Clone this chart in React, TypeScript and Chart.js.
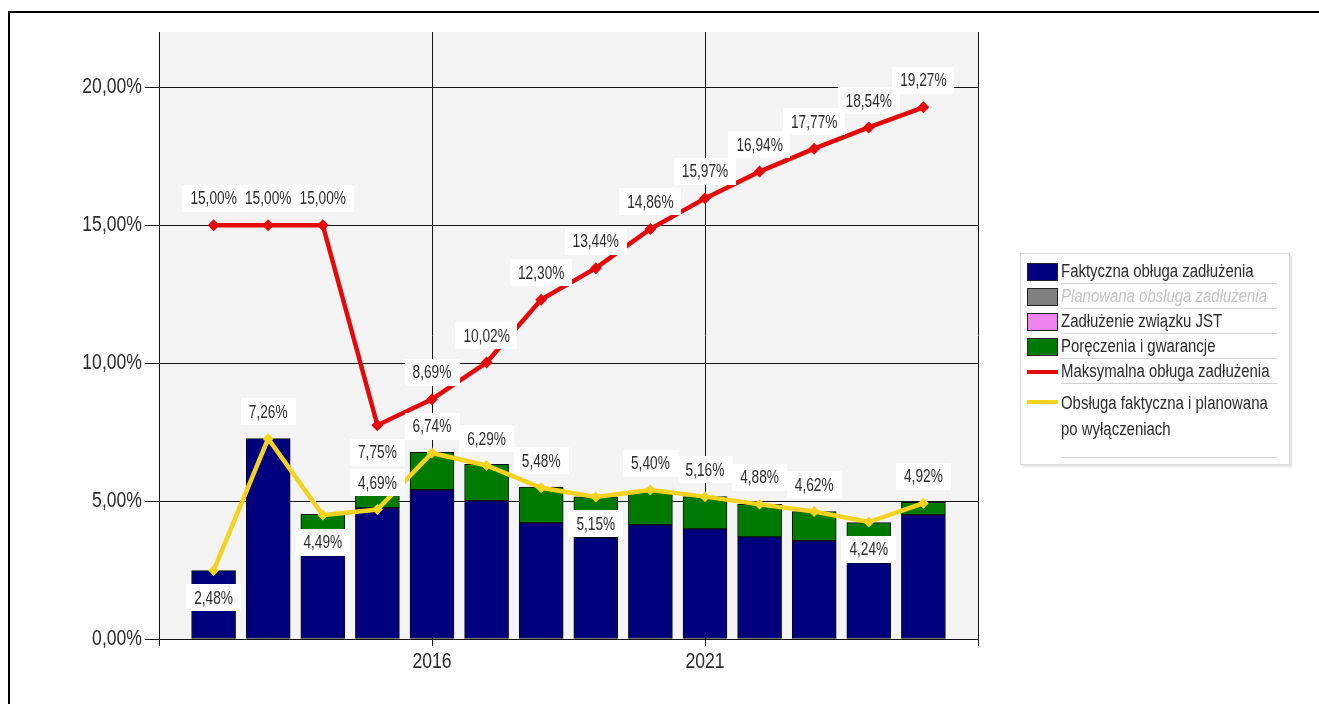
import React, { useEffect, useRef } from 'react';
import { Chart, registerables } from 'chart.js';

Chart.register(...registerables);

// ---- data ----
const YEARS = [2012, 2013, 2014, 2015, 2016, 2017, 2018, 2019, 2020, 2021, 2022, 2023, 2024, 2025];
const FAKTYCZNA = [2.48, 7.26, 3.02, 4.75, 5.41, 5.01, 4.21, 3.67, 4.14, 3.99, 3.70, 3.56, 2.76, 4.50];
const PORECZENIA = [null, null, 1.50, 0.55, 1.36, 1.32, 1.30, 1.48, 1.22, 1.17, 1.18, 1.06, 1.46, 0.45];
const MAKSYMALNA = [15.0, 15.0, 15.0, 7.75, 8.69, 10.02, 12.3, 13.44, 14.86, 15.97, 16.94, 17.77, 18.54, 19.27];
const OBSLUGA = [2.48, 7.26, 4.49, 4.69, 6.74, 6.29, 5.48, 5.15, 5.4, 5.16, 4.88, 4.62, 4.24, 4.92];
const Y_TICKS = [0, 5, 10, 15, 20];
const X_GRID_YEARS = [2011, 2016, 2021, 2026];
const X_LABEL_YEARS = [2016, 2021];
const RED_LABELS_BELOW = [2015];
const YELLOW_LABELS_BELOW = [2012, 2014, 2019, 2024];

// ---- styles ----
const FONT = "'Liberation Sans', Arial, sans-serif";
const NAVY = '#00007e';
const GREEN = '#007a00';
const RED = '#e20a0a';
const YELLOW = '#f3d320';
const GRID = '#141414';
const TEXT = '#2b2b2b';
const AXIS_FONT = 22;
const AXIS_SX = 0.8;
const LABEL_FONT = 18.5;
const LABEL_SX = 0.74;

const LEGEND_ITEMS = [
  { label: 'Faktyczna obługa zadłużenia', kind: 'box', color: NAVY },
  { label: 'Planowana obsługa zadłużenia', kind: 'box', color: '#808080', muted: true },
  { label: 'Zadłużenie związku JST', kind: 'box', color: '#ee82ee' },
  { label: 'Poręczenia i gwarancje', kind: 'box', color: GREEN },
  { label: 'Maksymalna obługa zadłużenia', kind: 'line', color: RED },
  { label: 'Obsługa faktyczna i planowana\npo wyłączeniach', kind: 'line', color: YELLOW },
];

const fmt = (v: number) => v.toFixed(2).replace('.', ',') + '%';

function drawNarrow(ctx: CanvasRenderingContext2D, text: string, x: number, y: number, sx: number, align: CanvasTextAlign) {
  ctx.save();
  ctx.translate(x, y);
  ctx.scale(sx, 1);
  ctx.textAlign = align;
  ctx.fillText(text, 0, 0);
  ctx.restore();
}

const bgPlugin = {
  id: 'plotBg',
  beforeDraw(chart: any) {
    const { ctx, chartArea } = chart;
    ctx.save();
    ctx.fillStyle = '#f4f4f4';
    ctx.fillRect(chartArea.left, chartArea.top, chartArea.right - chartArea.left, chartArea.bottom - chartArea.top);
    ctx.restore();
  },
};

const axisTextPlugin = {
  id: 'axisText',
  afterDraw(chart: any) {
    const ctx = chart.ctx;
    const xs = chart.scales.x;
    const ys = chart.scales.y;
    ctx.save();
    ctx.fillStyle = TEXT;
    ctx.font = `${AXIS_FONT}px ${FONT}`;
    ctx.textBaseline = 'middle';
    Y_TICKS.forEach((v) => {
      drawNarrow(ctx, fmt(v), chart.chartArea.left - 17, ys.getPixelForValue(v), AXIS_SX, 'right');
    });
    X_LABEL_YEARS.forEach((v) => {
      drawNarrow(ctx, String(v), xs.getPixelForValue(v), chart.chartArea.bottom + 23, AXIS_SX, 'center');
    });
    ctx.restore();
  },
};

const LABEL_RULES: Record<string, number[]> = {
  red: RED_LABELS_BELOW,
  yellow: YELLOW_LABELS_BELOW,
};

const labelPlugin = {
  id: 'valueLabels',
  afterDatasetsDraw(chart: any) {
    const ctx = chart.ctx;
    ctx.save();
    ctx.font = `${LABEL_FONT}px ${FONT}`;
    ctx.textBaseline = 'middle';
    ['red', 'yellow'].forEach((key) => {
      const di = chart.data.datasets.findIndex((d: any) => d.labelKey === key);
      if (di < 0) return;
      const meta = chart.getDatasetMeta(di);
      const ds = chart.data.datasets[di];
      meta.data.forEach((pt: any, i: number) => {
        const raw = ds.data[i];
        if (!raw || raw.y == null) return;
        const below = LABEL_RULES[key].includes(raw.x);
        const cy = pt.y + (below ? 27 : -27);
        const text = fmt(raw.y);
        const w = ctx.measureText(text).width * LABEL_SX + 16;
        const h = 27;
        ctx.fillStyle = '#ffffff';
        ctx.fillRect(Math.round(pt.x - w / 2), Math.round(cy - h / 2), Math.round(w), h);
        ctx.fillStyle = TEXT;
        drawNarrow(ctx, text, pt.x, cy + 1, LABEL_SX, 'center');
      });
    });
    ctx.restore();
  },
};

function Legend() {
  return (
    <div
      style={{
        position: 'absolute',
        left: 1020,
        top: 253,
        width: 270,
        height: 212,
        boxSizing: 'border-box',
        border: '1px solid #dcdcdc',
        boxShadow: '2px 2px 2px rgba(0,0,0,0.12)',
        background: '#ffffff',
        fontFamily: FONT,
        fontSize: 18,
        color: TEXT,
        paddingTop: 5,
      }}
    >
      {LEGEND_ITEMS.map((it, i) => {
        const lines = it.label.split('\n');
        const multi = lines.length > 1;
        return (
          <div key={i} style={{ display: 'flex', alignItems: multi ? 'flex-start' : 'center', height: multi ? 74 : 25 }}>
            <div style={{ width: 37, display: 'flex', justifyContent: 'flex-end', alignItems: 'center', height: multi ? 36 : 25 }}>
              {it.kind === 'box' ? (
                <div style={{ width: 29, height: 16, background: it.color, border: '1px solid #222' }} />
              ) : (
                <div style={{ width: 31, height: 4, background: it.color }} />
              )}
            </div>
            <div
              style={{
                marginLeft: 3,
                width: 216,
                height: multi ? 74 : 25,
                boxSizing: 'border-box',
                borderBottom: '1px solid #d0d0d0',
                display: 'flex',
                flexDirection: 'column',
                justifyContent: multi ? 'flex-start' : 'center',
                paddingTop: multi ? 6 : 0,
                lineHeight: multi ? '26px' : '25px',
                whiteSpace: 'nowrap',
                color: it.muted ? '#c4c4c4' : TEXT,
                fontStyle: it.muted ? 'italic' : 'normal',
              }}
            >
              {lines.map((l, j) => (
                <span key={j} style={{ display: 'block', transform: 'scaleX(0.83)', transformOrigin: 'left center' }}>
                  {l}
                </span>
              ))}
            </div>
          </div>
        );
      })}
    </div>
  );
}

export default function App() {
  const ref = useRef<HTMLCanvasElement | null>(null);

  useEffect(() => {
    const canvas = ref.current;
    if (!canvas) return;
    const chart = new Chart(canvas, {
      type: 'bar',
      data: {
        datasets: [
          {
            type: 'line',
            label: 'Maksymalna obługa zadłużenia',
            labelKey: 'red',
            data: YEARS.map((x, i) => ({ x, y: MAKSYMALNA[i] })),
            borderColor: RED,
            backgroundColor: RED,
            borderWidth: 4.5,
            pointStyle: 'rectRot',
            pointRadius: 6,
            pointBorderWidth: 0,
            pointBackgroundColor: RED,
            tension: 0,
            stack: 'red',
            order: 1,
          } as any,
          {
            type: 'line',
            label: 'Obsługa faktyczna i planowana po wyłączeniach',
            labelKey: 'yellow',
            data: YEARS.map((x, i) => ({ x, y: OBSLUGA[i] })),
            borderColor: YELLOW,
            backgroundColor: YELLOW,
            borderWidth: 4.5,
            pointStyle: 'rectRot',
            pointRadius: 5.5,
            pointBorderWidth: 0,
            pointBackgroundColor: YELLOW,
            tension: 0,
            stack: 'yellow',
            order: 0,
          } as any,
          {
            type: 'bar',
            label: 'Faktyczna obługa zadłużenia',
            data: YEARS.map((x, i) => ({ x, y: FAKTYCZNA[i] })),
            backgroundColor: NAVY,
            borderColor: '#0b0b0b',
            borderWidth: 1,
            borderSkipped: false,
            barThickness: 44,
            stack: 'bars',
            order: 2,
          },
          {
            type: 'bar',
            label: 'Poręczenia i gwarancje',
            data: YEARS.map((x, i) => ({ x, y: PORECZENIA[i] })),
            backgroundColor: GREEN,
            borderColor: '#0b0b0b',
            borderWidth: 1,
            borderSkipped: false,
            barThickness: 44,
            stack: 'bars',
            order: 2,
          },
        ],
      },
      options: {
        responsive: false,
        animation: false,
        devicePixelRatio: 1,
        layout: { padding: { left: 0, right: 341, top: 32, bottom: 0 } },
        plugins: {
          legend: { display: false },
          tooltip: { enabled: false },
        },
        scales: {
          x: {
            type: 'linear',
            min: 2011,
            max: 2026,
            stacked: true,
            offset: false,
            afterBuildTicks: (scale: any) => {
              scale.ticks = X_GRID_YEARS.map((v) => ({ value: v }));
            },
            afterFit: (scale: any) => {
              scale.height = 65;
            },
            ticks: { display: false, autoSkip: false, maxRotation: 0 },
            grid: { color: GRID, lineWidth: 1, tickLength: 7, offset: false, drawOnChartArea: true },
            border: { display: true, color: GRID, width: 1 },
          },
          y: {
            type: 'linear',
            min: 0,
            max: 22,
            stacked: true,
            afterBuildTicks: (scale: any) => {
              scale.ticks = Y_TICKS.map((v) => ({ value: v }));
            },
            afterFit: (scale: any) => {
              scale.width = 159;
            },
            ticks: { display: false },
            grid: { color: GRID, lineWidth: 1, tickLength: 14 },
            border: { display: true, color: GRID, width: 1 },
          },
        },
      } as any,
      plugins: [bgPlugin, labelPlugin, axisTextPlugin],
    });
    return () => chart.destroy();
  }, []);

  return (
    <div style={{ position: 'fixed', left: 0, top: 0, width: 1319, height: 704, background: '#fff', overflow: 'hidden' }}>
      <canvas ref={ref} width={1319} height={704} style={{ position: 'absolute', left: 0, top: 0, width: 1319, height: 704 }} />
      <div
        style={{
          position: 'absolute',
          left: 8,
          top: 11,
          width: 1319,
          height: 704,
          borderTop: '2px solid #000',
          borderLeft: '2px solid #000',
          pointerEvents: 'none',
        }}
      />
      <Legend />
    </div>
  );
}
